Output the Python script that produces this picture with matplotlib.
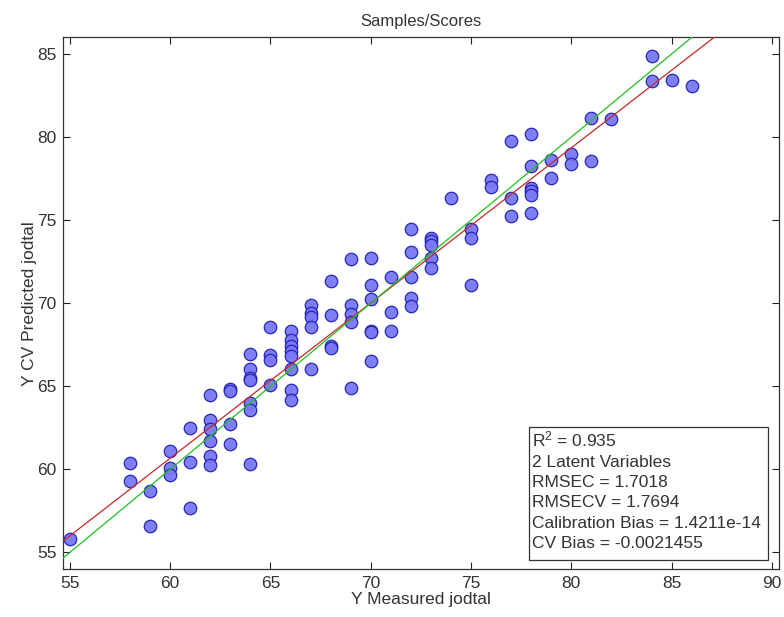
import numpy as np
import matplotlib
matplotlib.use('Agg')
import matplotlib.pyplot as plt
from matplotlib.patches import Rectangle

plt.rcParams['font.family'] = ['Liberation Sans', 'DejaVu Sans']

measured_groups = [55, 58, 59, 60, 61, 62, 63, 64, 65, 66, 67, 68, 69, 70,
                   71, 72, 73, 74, 75, 76, 77, 78, 79, 80, 81, 82, 84, 85, 86]
predicted_groups = [
    [55.8],
    [60.35, 59.3],
    [58.7, 56.6],
    [61.1, 60.1, 59.65],
    [62.5, 60.45, 57.7],
    [64.45, 62.95, 62.45, 61.7, 60.8, 60.25],
    [64.85, 64.7, 62.75, 61.5],
    [66.95, 66.05, 65.5, 65.35, 64.0, 63.55, 60.3],
    [68.55, 66.85, 66.55, 65.1],
    [68.3, 67.8, 67.45, 67.1, 66.8, 66.05, 64.8, 64.2],
    [69.9, 69.4, 69.15, 68.55, 66.05],
    [71.35, 69.3, 67.4, 67.3],
    [72.65, 69.9, 69.35, 68.85, 64.9],
    [72.7, 71.1, 70.25, 68.3, 68.25, 66.5],
    [71.55, 69.45, 68.3],
    [74.45, 73.05, 71.6, 70.3, 69.8],
    [73.95, 73.75, 73.5, 72.7, 72.1],
    [76.35],
    [74.45, 73.9, 71.1],
    [77.4, 77.0],
    [79.75, 76.3, 75.25],
    [80.2, 78.25, 76.95, 76.75, 76.5, 75.4],
    [78.6, 77.55],
    [78.95, 78.4],
    [81.15, 78.55],
    [81.1],
    [84.9, 83.4],
    [83.45],
    [83.1],
]

# regression line (red) and 1:1 line (green)
fit_slope = 0.934
fit_intercept = 4.63

stats_lines = [
    r'$\mathregular{R^2}$ = 0.935',
    '2 Latent Variables',
    'RMSEC = 1.7018',
    'RMSECV = 1.7694',
    'Calibration Bias = 1.4211e-14',
    'CV Bias = -0.0021455',
]

x = []
y = []
for m, preds in zip(measured_groups, predicted_groups):
    for p in preds:
        x.append(m)
        y.append(p)
x = np.array(x, dtype=float)
y = np.array(y)

fig = plt.figure(figsize=(7.84, 6.17), dpi=100)
ax = fig.add_axes([0.0807, 0.0778, 0.9123, 0.8617])

ax.axline((0, fit_intercept), slope=fit_slope, color='#c82828', lw=0.9, zorder=3)
ax.axline((0, 0), slope=1, color='#20c020', lw=0.9, zorder=3)
ax.plot(x, y, 'o', ms=9, mfc='#7878f5', mec='#2020b0', mew=0.9, alpha=0.95, zorder=2)

ax.set_xlim(54.67, 90.33)
ax.set_ylim(54, 86)
ax.set_xticks(np.arange(55, 91, 5))
ax.set_yticks(np.arange(55, 86, 5))
ax.tick_params(direction='in', top=True, right=True, length=5, width=0.8,
               labelsize=12.5, colors='#222222', labelcolor='#333333', pad=5)
for s in ax.spines.values():
    s.set_linewidth(0.9)
    s.set_color('#333333')

ax.set_title('Samples/Scores', fontsize=12, color='#333333', pad=8)
ax.set_xlabel('Y Measured jodtal', fontsize=12.5, color='#333333', labelpad=1)
ax.set_ylabel('Y CV Predicted jodtal', fontsize=12.5, color='#333333', labelpad=0)

box = Rectangle((0.6516, 0.017), 0.3341, 0.2506, transform=ax.transAxes,
                facecolor='white', edgecolor='#333333', lw=0.9, zorder=5)
ax.add_patch(box)
ax.text(0.656, 0.262, '\n'.join(stats_lines), transform=ax.transAxes,
        va='top', ha='left', fontsize=12.5, color='#333333',
        linespacing=1.44, zorder=6)

fig.savefig('out.png', dpi=100)
